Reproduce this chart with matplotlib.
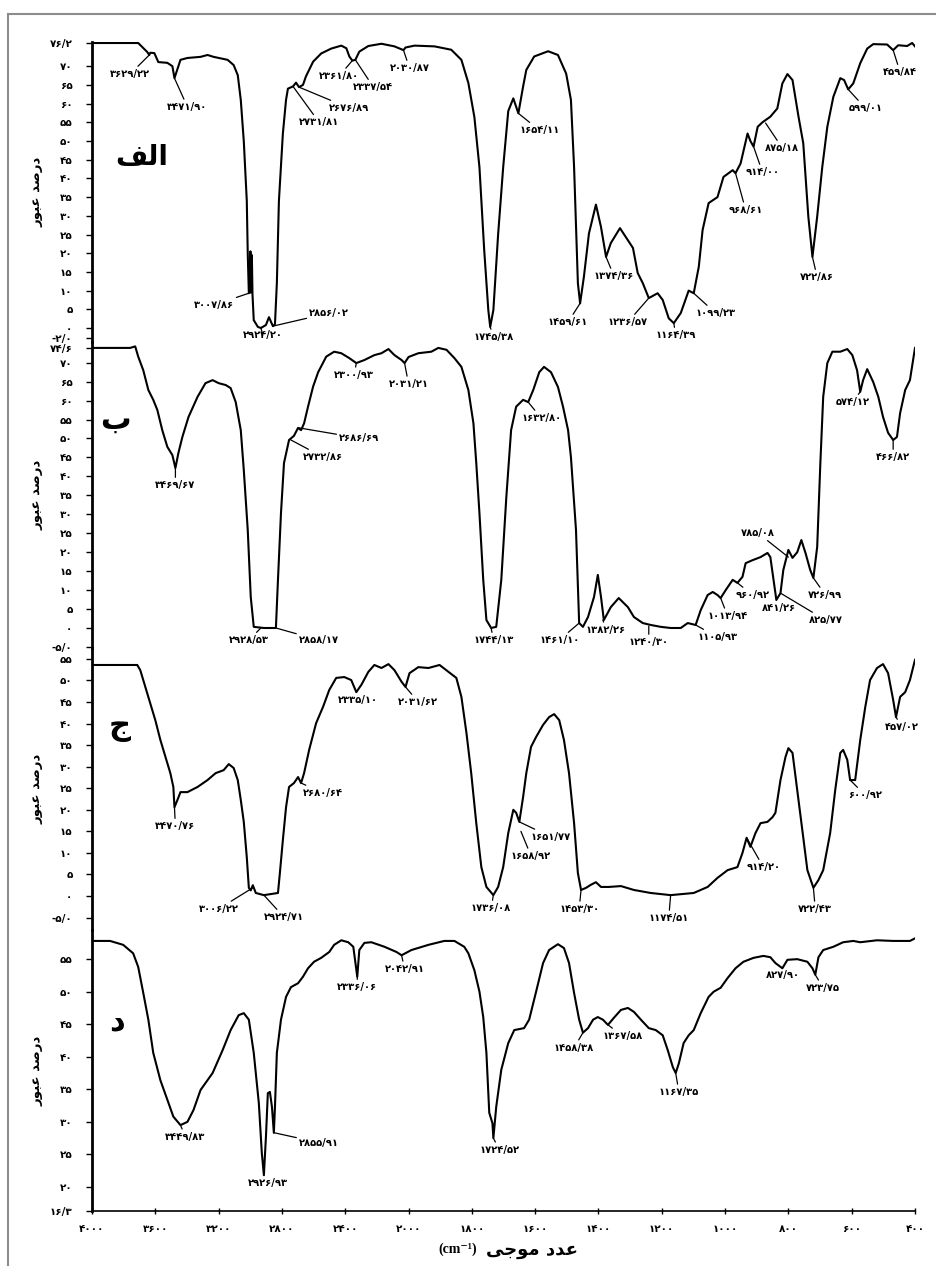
import numpy as np
import matplotlib
matplotlib.use('Agg')
import matplotlib.pyplot as plt
from matplotlib.lines import Line2D

FA = str.maketrans('0123456789', '۰۱۲۳۴۵۶۷۸۹')


def fa(s):
    return s.translate(FA)


# ---------------- data: panel الف ----------------
A_wn = [4000, 3708, 3651, 3638, 3632, 3606, 3581, 3524, 3492, 3479, 3441, 3397, 3314, 3270, 3232, 3143, 3105, 3079,
        3060, 3041, 3022, 3016, 3009, 3003, 2999, 2996, 2990, 2986, 2978, 2952, 2933, 2901, 2882, 2857, 2844, 2832,
        2819, 2794, 2774, 2762, 2730, 2711, 2692, 2667, 2648, 2603, 2552, 2489, 2425, 2393, 2374, 2355, 2336, 2311,
        2254, 2171, 2089, 2032, 2019, 1981, 1918, 1865, 1833, 1811, 1792, 1776, 1761, 1748, 1742, 1732, 1717, 1701,
        1685, 1669, 1653, 1638, 1628, 1603, 1559, 1528, 1502, 1487, 1477, 1465, 1458, 1446, 1430, 1408, 1392, 1376,
        1361, 1332, 1291, 1276, 1260, 1241, 1213, 1197, 1178, 1162, 1140, 1115, 1099, 1083, 1071, 1052, 1024, 1005,
        976, 967, 951, 929, 920, 910, 897, 882, 857, 835, 819, 803, 787, 768, 753, 737, 724, 709, 693, 677, 658, 636,
        624, 611, 595, 573, 551, 532, 488, 469, 453, 425, 409, 400]
A_T = [76.2, 76.2, 73.8, 73.0, 73.6, 73.5, 71.1, 70.9, 70.0, 66.8, 71.7, 72.2, 72.5, 73.0, 72.5, 71.7, 70.3, 67.6,
       61.0, 50.0, 34.0, 20.0, 9.3, 9.5, 20.5, 9.5, 19.5, 9.0, 2.1, 0.3, 0.0, 0.8, 2.9, 0.5, 1.0, 12.0,
       34.0, 52.0, 61.0, 64.0, 64.6, 65.6, 64.4, 65.0, 67.3, 71.2, 73.4, 74.7, 75.5, 74.8, 72.6, 71.5, 71.7, 73.9,
       75.4, 76.0, 75.3, 74.3, 75.0, 75.5, 75.3, 74.4, 71.7, 65.5, 56.4, 43.0, 20.9, 4.8, 0.3, 4.8, 25.0, 43.0,
       58.0, 61.4, 57.4, 64.6, 69.0, 72.6, 74.0, 73.0, 68.0, 61.0, 43.0, 12.0, 6.6, 13.7, 25.3, 33.0, 27.0, 19.0,
       22.7, 26.7, 21.4, 14.7, 12.0, 8.0, 9.3, 7.5, 2.6, 1.3, 4.0, 10.0, 9.3, 16.4, 26.2, 33.4, 35.0, 40.4,
       42.2, 41.4, 44.0, 52.0, 50.0, 48.5, 53.8, 55.0, 56.5, 58.7, 65.4, 67.9, 66.3, 56.5, 49.4, 29.8, 19.0, 29.8,
       43.0, 53.8, 61.8, 66.8, 66.3, 63.8, 65.4, 70.8, 74.7, 75.9, 75.8, 74.3, 75.6, 75.4, 76.2, 75.3]

# ---------------- data: panel ب ----------------
B_wn = [4000, 3759, 3727, 3708, 3676, 3644, 3613, 3587, 3556, 3524, 3492, 3473, 3454, 3429, 3390, 3333, 3283, 3238,
        3200, 3155, 3124, 3092, 3060, 3041, 3016, 2997, 2978, 2914, 2838, 2825, 2806, 2787, 2755, 2724, 2698, 2679,
        2660, 2635, 2603, 2571, 2520, 2470, 2425, 2374, 2330, 2279, 2216, 2171, 2127, 2089, 2044, 2025, 2000, 1969,
        1928, 1906, 1880, 1855, 1833, 1811, 1795, 1786, 1776, 1764, 1754, 1739, 1723, 1707, 1691, 1676, 1660, 1638,
        1622, 1606, 1587, 1572, 1550, 1528, 1512, 1496, 1487, 1471, 1461, 1449, 1433, 1414, 1402, 1392, 1383, 1361,
        1336, 1307, 1288, 1260, 1235, 1203, 1172, 1140, 1118, 1093, 1077, 1055, 1039, 1024, 1014, 998, 976, 961, 945,
        935, 913, 888, 866, 857, 847, 838, 825, 816, 800, 787, 772, 759, 746, 731, 721, 709, 699, 690, 677, 661, 636,
        614, 598, 583, 573, 564, 551, 532, 516, 501, 485, 469, 457, 447, 431, 416, 400]
B_T = [73.9, 73.9, 74.3, 71.6, 68.0, 62.8, 60.2, 57.5, 52.2, 47.8, 45.6, 42.2, 46.2, 50.4, 55.7, 61.0, 64.6, 65.4,
       64.6, 64.1, 63.3, 59.6, 52.2, 41.7, 25.9, 8.2, 0.3, 0.0, 0.0, 12.7, 30.3, 43.5, 49.6, 50.7, 52.8, 52.2,
       54.0, 58.4, 63.7, 67.5, 71.6, 72.9, 72.5, 71.2, 69.9, 70.7, 72.0, 72.5, 73.6, 72.0, 70.7, 69.9, 71.5, 72.5,
       72.9, 73.9, 73.4, 71.2, 68.9, 62.8, 54.0, 43.5, 30.3, 12.7, 2.1, 0.0, 0.3, 12.7, 34.6, 52.2, 58.4, 60.2,
       59.6, 62.8, 67.5, 68.9, 67.5, 63.6, 58.4, 52.2, 45.1, 25.9, 1.3, 0.3, 2.9, 8.2, 14.0, 8.2, 2.1, 5.5,
       7.9, 5.5, 2.9, 1.3, 0.8, 0.3, 0.0, 0.0, 1.3, 0.8, 4.7, 8.7, 9.5, 8.7, 7.9, 10.0, 12.7, 11.9, 13.5,
       17.1, 17.9, 18.7, 19.8, 18.7, 12.7, 7.4, 9.2, 15.3, 20.6, 18.5, 20.0, 23.2, 19.8, 15.3, 13.2, 21.4, 43.5,
       61.0, 69.9, 72.9, 72.9, 73.6, 72.0, 68.0, 62.3, 65.4, 68.3, 64.9, 61.0, 55.7, 51.5, 49.6, 50.4, 56.7, 62.8,
       65.4, 73.9]

# ---------------- data: panel ج ----------------
C_wn = [4000, 3714, 3695, 3663, 3632, 3600, 3568, 3536, 3505, 3486, 3479, 3460, 3441, 3397, 3333, 3270, 3219, 3168,
        3136, 3105, 3079, 3060, 3041, 3022, 3009, 2997, 2984, 2965, 2914, 2825, 2813, 2794, 2774, 2755, 2724, 2698,
        2679, 2660, 2628, 2584, 2540, 2501, 2457, 2406, 2362, 2330, 2298, 2254, 2216, 2171, 2127, 2089, 2044, 2019,
        1997, 1969, 1937, 1902, 1874, 1849, 1833, 1817, 1802, 1786, 1770, 1754, 1732, 1717, 1701, 1685, 1669, 1660,
        1650, 1638, 1628, 1613, 1597, 1575, 1556, 1540, 1524, 1509, 1493, 1477, 1465, 1455, 1439, 1424, 1408, 1392,
        1367, 1329, 1288, 1235, 1172, 1099, 1055, 1024, 992, 961, 945, 932, 920, 904, 888, 866, 850, 841, 825, 809,
        800, 787, 772, 756, 740, 721, 705, 690, 668, 652, 636, 627, 614, 605, 589, 573, 557, 542, 520, 501, 485, 469,
        460, 447, 431, 416, 400]
C_T = [53.6, 53.6, 52.4, 48.5, 44.8, 40.8, 36.2, 32.3, 28.5, 25.3, 20.6, 22.3, 24.1, 24.1, 25.3, 26.9, 28.5, 29.2,
       30.6, 29.7, 26.9, 22.3, 17.2, 9.0, 1.9, 1.3, 2.5, 0.7, 0.2, 0.7, 5.3, 13.0, 20.6, 25.3, 26.2, 27.6,
       26.2, 28.5, 33.9, 40.1, 43.9, 47.8, 50.6, 50.8, 50.1, 47.3, 49.0, 52.0, 53.6, 52.9, 53.8, 52.4, 49.7, 48.5,
       51.7, 53.1, 52.9, 53.6, 52.0, 50.6, 46.2, 37.8, 28.5, 16.9, 6.7, 2.1, 0.2, 2.1, 6.7, 14.6, 20.0, 19.3,
       17.2, 23.0, 28.5, 34.6, 36.9, 39.7, 41.5, 42.2, 40.8, 36.2, 28.5, 16.9, 5.3, 1.4, 1.9, 2.6, 3.2, 2.1,
       2.1, 2.3, 1.4, 0.7, 0.2, 0.7, 2.1, 4.2, 6.0, 6.7, 10.0, 13.5, 11.4, 14.6, 16.9, 17.2, 18.3, 19.3, 26.9, 32.3,
       34.3, 33.2, 24.6, 15.3, 6.0, 1.9, 3.7, 6.0, 14.6, 24.6, 33.2, 33.9, 31.6, 26.9, 26.9, 36.2, 43.9, 50.1, 52.9,
       53.8, 51.7, 45.5, 41.5, 46.2, 47.3, 50.1, 54.8]

# ---------------- data: panel د ----------------
D_wn = [4000, 3886, 3803, 3740, 3708, 3676, 3644, 3613, 3568, 3524, 3486, 3441, 3397, 3359, 3314, 3238, 3175, 3124,
        3073, 3041, 3009, 2978, 2946, 2927, 2914, 2901, 2889, 2876, 2863, 2851, 2844, 2832, 2806, 2774, 2743, 2698,
        2667, 2635, 2597, 2552, 2501, 2470, 2425, 2381, 2349, 2324, 2311, 2279, 2235, 2152, 2076, 2044, 1991, 1937,
        1887, 1855, 1824, 1811, 1792, 1776, 1764, 1754, 1745, 1735, 1732, 1723, 1707, 1685, 1666, 1635, 1619, 1597,
        1575, 1556, 1528, 1509, 1493, 1477, 1461, 1449, 1433, 1417, 1402, 1386, 1370, 1351, 1329, 1307, 1288, 1266,
        1241, 1219, 1197, 1181, 1165, 1156, 1146, 1131, 1115, 1099, 1077, 1052, 1036, 1014, 992, 967, 942, 910, 879,
        857, 841, 819, 803, 772, 740, 724, 715, 705, 690, 658, 627, 595, 573, 520, 469, 416, 400]
D_T = [57.8, 57.8, 57.2, 55.9, 53.8, 49.8, 45.7, 40.6, 36.4, 33.4, 30.8, 29.5, 30.0, 31.8, 34.9, 37.5, 41.0, 44.1,
       46.4, 46.7, 45.7, 40.6, 32.9, 25.2, 21.8, 27.7, 34.4, 34.6, 32.3, 28.3, 32.3, 40.6, 45.7, 49.2, 50.7, 51.3,
       52.3, 53.6, 54.6, 55.2, 56.1, 57.2, 57.9, 57.6, 56.9, 52.3, 56.4, 57.5, 57.6, 56.9, 56.1, 55.6, 56.4, 57.2,
       57.8, 57.8, 56.9, 55.9, 53.3, 50.0, 46.1, 40.6, 31.4, 29.8, 27.5, 32.3, 38.0, 42.1, 44.1, 44.4, 45.7, 50.0,
       54.4, 56.4, 57.3, 56.7, 54.4, 49.8, 45.7, 43.7, 44.4, 45.7, 46.1, 45.7, 44.9, 46.0, 47.2, 47.5, 46.9, 45.7,
       44.4, 44.1, 43.3, 41.0, 38.4, 37.5, 39.0, 42.1, 43.3, 44.1, 46.7, 49.2, 50.0, 50.6, 52.1, 53.6, 54.6, 55.2, 55.5,
       55.3, 54.4, 53.6, 54.9, 55.0, 54.6, 53.6, 52.6, 55.3, 56.4, 56.9, 57.6, 57.8, 57.6, 57.9, 57.8, 57.8, 58.2]

# y ticks (positions and printed labels)
A_yticks = [76.2, 70, 65, 60, 55, 50, 45, 40, 35, 30, 25, 20, 15, 10, 5, 0, -2.6]
A_ylabels = ['76/2', '70', '65', '60', '55', '50', '45', '40', '35', '30', '25', '20', '15', '10', '5', '0', '-2/0']
B_yticks = [73.9, 70, 65, 60, 55, 50, 45, 40, 35, 30, 25, 20, 15, 10, 5, 0, -5.0]
B_ylabels = ['74/6', '70', '65', '60', '55', '50', '45', '40', '35', '30', '25', '20', '15', '10', '5', '0', '-5/0']
C_yticks = [55, 50, 45, 40, 35, 30, 25, 20, 15, 10, 5, 0, -5.0]
C_ylabels = ['55', '50', '45', '40', '35', '30', '25', '20', '15', '10', '5', '0', '-5/0']
D_yticks = [55, 50, 45, 40, 35, 30, 25, 20, 16.3]
D_ylabels = ['55', '50', '45', '40', '35', '30', '25', '20', '16/3']

x_ticks = [4000, 3600, 3200, 2800, 2400, 2000, 1800, 1600, 1400, 1200, 1000, 800, 600, 400]

# peak labels: (text, peak wavenumber, peak value, label wavenumber, label value)
A_peaks = [('3629/22', 3638, 73.0, 3759, 67.9), ('3471/90', 3479, 66.8, 3397, 59.1),
           ('2361/80', 2355, 71.5, 2438, 67.4), ('2337/54', 2336, 71.7, 2222, 64.4),
           ('2030/87', 2032, 74.3, 1997, 69.5), ('2676/89', 2692, 64.4, 2374, 58.8),
           ('2731/81', 2730, 64.6, 2565, 55.0), ('3007/86', 3009, 9.3, 3232, 6.1),
           ('2924/20', 2933, 0.0, 2920, -1.9), ('2856/02', 2857, 0.5, 2501, 4.0),
           ('1654/11', 1653, 57.4, 1587, 52.9), ('1745/38', 1742, 0.3, 1732, -2.4),
           ('1459/61', 1458, 6.6, 1496, 1.6), ('1374/36', 1376, 19.0, 1351, 13.9),
           ('1236/57', 1241, 8.0, 1307, 1.6), ('1164/39', 1162, 1.3, 1156, -1.9),
           ('1099/23', 1099, 9.3, 1030, 4.0), ('968/61', 967, 41.4, 935, 31.6),
           ('914/00', 910, 48.5, 882, 41.7), ('875/18', 872, 54.8, 819, 48.1),
           ('722/86', 724, 19.0, 709, 13.6), ('599/01', 611, 63.8, 557, 58.8),
           ('459/84', 469, 74.3, 447, 68.4)]
B_peaks = [('3469/67', 3473, 42.2, 3473, 37.7), ('2928/53', 2933, 0.0, 3009, -3.2),
           ('2858/17', 2838, 0.0, 2565, -3.2), ('2732/86', 2743, 49.6, 2540, 45.1),
           ('2686/69', 2692, 52.8, 2311, 50.1), ('2300/93', 2330, 69.9, 2343, 66.8),
           ('2031/21', 2025, 69.9, 2000, 64.4), ('1632/80', 1622, 59.6, 1581, 55.4),
           ('1744/13', 1739, 0.0, 1732, -3.2), ('1461/10', 1461, 1.3, 1524, -3.2),
           ('1382/26', 1386, 2.1, 1376, -0.5), ('1240/30', 1241, 0.5, 1241, -3.7),
           ('1105/93', 1093, 0.8, 1024, -2.4), ('1013/94', 1014, 7.9, 992, 3.2),
           ('960/92', 961, 11.9, 913, 8.7), ('785/08', 800, 18.7, 897, 25.1),
           ('841/26', 838, 7.4, 831, 5.3), ('825/77', 825, 9.2, 683, 2.1),
           ('726/99', 721, 13.2, 683, 8.7), ('574/12', 573, 62.3, 598, 59.6),
           ('466/82', 469, 49.6, 469, 45.1)]
C_peaks = [('3470/76', 3479, 20.6, 3473, 16.2), ('3006/22', 2984, 1.9, 3200, -3.0),
           ('2924/71', 2914, 0.2, 2787, -4.9), ('2680/64', 2679, 26.2, 2540, 23.9),
           ('2335/10', None, None, 2317, 45.5), ('2031/62', 2019, 48.5, 1969, 45.0),
           ('1736/08', 1732, 0.2, 1739, -2.8), ('1651/77', 1650, 17.2, 1550, 13.7),
           ('1658/92', 1645, 15.0, 1613, 9.3), ('1453/30', 1455, 1.4, 1461, -3.0),
           ('1174/51', 1172, 0.2, 1178, -5.1), ('914/20', 932, 13.5, 879, 6.7),
           ('722/43', 721, 1.9, 715, -3.0), ('600/92', 605, 26.9, 557, 23.4),
           ('457/02', 460, 41.5, 441, 39.2)]
D_peaks = [('3449/83', 3441, 29.5, 3410, 27.7), ('2926/93', 2914, 21.8, 2889, 20.6),
           ('2855/91', 2844, 28.3, 2565, 26.8), ('2336/06', 2324, 52.3, 2324, 50.7),
           ('2042/91', 2044, 55.6, 2025, 53.5), ('1724/52', 1732, 27.5, 1713, 25.7),
           ('1458/38', 1449, 43.7, 1477, 41.4), ('1367/58', 1370, 44.9, 1323, 43.2),
           ('1167/35', 1156, 37.5, 1146, 34.6), ('827/90', None, None, 819, 52.6),
           ('723/75', 715, 52.6, 690, 50.6)]

# panel letters (Arabic presentation forms, visual order)
panel_letters = ['\uFED2\uFEDF\uFE8D', '\uFE8F', '\uFE9D', '\uFEA9']
letter_pos = [(3683, 45.7), (3854, 54.9), (3822, 39.0), (3841, 45.3)]
ylabel_text = '\uFEAD\uFEEE\uFE92\uFECB \uFEAA\uFEBB\uFEAD\uFEA9'      # درصد عبور
xlabel_ar = '\uFEF0\uFE9F\uFEEE\uFEE3 \uFEA9\uFEAA\uFECB'              # عدد موجی
xlabel_unit = '(cm\u207B\u00B9)'

# ---------------- figure ----------------
plt.rcParams['font.family'] = ['DejaVu Sans']
W, H = 937, 1266
fig = plt.figure(figsize=(W / 100, H / 100), dpi=100)
fig.patch.set_facecolor('white')


def fwd(w):
    w = np.asarray(w, dtype=float)
    return np.where(w <= 2000, w, 2000 + (w - 2000) / 2.0)


def inv(u):
    u = np.asarray(u, dtype=float)
    return np.where(u <= 2000, u, 2000 + (u - 2000) * 2.0)


panels = [
    dict(wn=A_wn, T=A_T, px=(42, 342), ylim=(-3.74, 76.47), yt=A_yticks, yl=A_ylabels, peaks=A_peaks),
    dict(wn=B_wn, T=B_T, px=(342, 648), ylim=(-5.28, 75.46), yt=B_yticks, yl=B_ylabels, peaks=B_peaks),
    dict(wn=C_wn, T=C_T, px=(648, 930), ylim=(-7.89, 57.54), yt=C_yticks, yl=C_ylabels, peaks=C_peaks),
    dict(wn=D_wn, T=D_T, px=(930, 1211), ylim=(16.3, 59.48), yt=D_yticks, yl=D_ylabels, peaks=D_peaks),
]

L, R = 92, 915
lab_fs = 7.2
for i, p in enumerate(panels):
    top, bot = p['px']
    ax = fig.add_axes([L / W, 1 - bot / H, (R - L) / W, (bot - top) / H])
    ax.set_xscale('function', functions=(fwd, inv))
    ax.set_xlim(4000, 400)
    ax.set_ylim(*p['ylim'])
    ax.patch.set_alpha(0)
    ax.plot(p['wn'], p['T'], color='black', lw=1.5, solid_joinstyle='round')
    for s in ['top', 'right']:
        ax.spines[s].set_visible(False)
    ax.spines['left'].set_linewidth(2.0)
    ax.set_yticks(p['yt'])
    ax.set_yticklabels([fa(t) for t in p['yl']], fontsize=7.5, fontweight='bold')
    ax.tick_params(axis='y', direction='out', length=4, width=1.0, pad=10)
    if i < 3:
        ax.spines['bottom'].set_visible(False)
        ax.set_xticks([])
    else:
        ax.spines['bottom'].set_linewidth(1.2)
        ax.set_xticks(x_ticks)
        ax.set_xticklabels([fa(str(t)) for t in x_ticks], fontsize=7.5, fontweight='bold')
        ax.tick_params(axis='x', direction='inout', length=4, width=1.0, pad=7)
        ax.xaxis.set_minor_locator(matplotlib.ticker.NullLocator())
    for (t, xw, xv, tw, tv) in p['peaks']:
        if xw is None:
            ax.text(tw, tv, fa(t), ha='center', va='center', fontsize=lab_fs, fontweight='bold', clip_on=False)
        else:
            ax.annotate(fa(t), xy=(xw, xv), xytext=(tw, tv), ha='center', va='center',
                        fontsize=lab_fs, fontweight='bold', annotation_clip=False,
                        arrowprops=dict(arrowstyle='-', lw=0.9, color='black', shrinkA=0, shrinkB=0))
    lx, ly = letter_pos[i]
    ax.text(lx, ly, panel_letters[i], ha='center', va='center',
            fontsize=20 if i == 0 else 22, fontweight='bold')
    ymid = 1 - (top + bot) / 2 / H
    fig.text(37 / W, ymid, ylabel_text, rotation=90, ha='center', va='center', fontsize=9.5, fontweight='bold')

fig.text(532 / W, 1 - 1250 / H, xlabel_ar, ha='center', va='center', fontsize=13, fontweight='bold')
fig.text(458 / W, 1 - 1249 / H, xlabel_unit, ha='center', va='center', fontsize=10, fontweight='bold',
         family=['Liberation Serif', 'DejaVu Serif'])

# outer frame lines
fig.add_artist(Line2D([8 / W, 8 / W], [0, 1 - 14 / H], transform=fig.transFigure, color='#8c8c8c', lw=1.5))
fig.add_artist(Line2D([8 / W, 1], [1 - 14 / H, 1 - 14 / H], transform=fig.transFigure, color='#8c8c8c', lw=1.5))

fig.savefig('out.png', dpi=100, facecolor='white')
